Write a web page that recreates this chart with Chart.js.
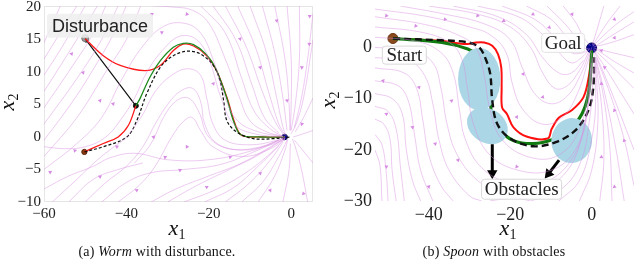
<!DOCTYPE html>
<html>
<head>
<meta charset="utf-8">
<script src="https://cdn.jsdelivr.net/npm/chart.js@4.4.1/dist/chart.umd.min.js"></script>
<style>
  body { margin: 0; background: #fff; width: 640px; height: 263px; overflow: hidden; position: relative; }
  canvas { position: absolute; top: 0; }
  .ttl { position: absolute; font-family: "Liberation Serif", serif; font-size: 22px; color: #111; line-height: 1; white-space: nowrap; }
  .ttl i { font-style: italic; }
  .ttl sub { font-size: 14px; vertical-align: -4px; }
  .rot { transform: translate(-50%, -50%) rotate(-90deg); }
  .hx { transform: translate(-50%, -50%); }
  .cap { position: absolute; top: 244px; font-family: "Liberation Serif", serif; font-size: 14px; letter-spacing: 0.2px; color: #111; white-space: nowrap; transform: translateX(-50%); }
</style>
</head>
<body>
<canvas id="worm" width="320" height="263" style="left:0"></canvas>
<canvas id="spoon" width="320" height="263" style="left:320px"></canvas>

<div class="ttl rot" style="left:8px; top:102px"><i>x</i><sub>2</sub></div>
<div class="ttl hx" style="left:177px; top:229px"><i>x</i><sub>1</sub></div>
<div class="ttl rot" style="left:329px; top:100px"><i>x</i><sub>2</sub></div>
<div class="ttl hx" style="left:508px; top:229px"><i>x</i><sub>1</sub></div>
<div class="cap" style="left:157px">(a) <i>Worm</i> with disturbance.</div>
<div class="cap" style="left:494px">(b) <i>Spoon</i> with obstacles</div>

<script>
// ---------- Worm (left) ----------
var wormXTicks = [-60, -40, -20, 0];
var wormYTicks = [-10, -5, 0, 5, 10, 15, 20];

var wormDashed = [[-50.2,-2.3],[-45.6,-1.5],[-39.9,0],[-37.5,2.5],[-35.1,6.6],[-31.8,10.7],[-28.6,12.5],[-25.3,13.2],[-22.1,12.8],[-18.9,11],[-17.3,8.7],[-16.4,5.6],[-15.6,2.5],[-13.2,0.75],[-9.2,-0.25],[-4.3,-0.25],[0,0]];
var wormRedStart = [[-50.2,-2.3],[-45.6,-1.0],[-42.0,0],[-39.5,1.8],[-37.7,4.8]];
var wormRed = [[-50,15.1],[-45.6,12.5],[-41.5,11.0],[-35.5,10.2],[-31.8,11.0],[-28.6,13.3],[-26.2,14.3],[-23.7,14.0],[-20.5,12.5],[-18.1,10.2],[-15.6,6.1],[-13.6,2.0],[-12.0,0.25],[-7.5,0],[-1.6,0]];
var wormGreen = [[-37.7,4.8],[-36.7,5.9],[-34.3,9.2],[-31.8,11.7],[-28.6,13.8],[-26.2,14.4],[-23.7,14.2],[-20.6,12.7],[-18.3,10.5],[-15.8,6.3],[-13.8,2.1],[-12.1,0.3],[-7.5,0],[-1.6,0]];
var wormJump = [[-50,15.1],[-37.7,4.8]];
var wormStart = [-50.2, -2.3];
var wormGoal = [-1.6, 0];
var wormDisturb = [-50, 15.2];

var wormStreams = [
  [[-60,14.5],[-56,20.2]],
  [[-60,12],[-52,20.2]],
  [[-60,9.5],[-55,14.5],[-50,20.2]],
  [[-60,7],[-53,14],[-47,20.2]],
  [[-60,4.5],[-53,11],[-48,16],[-45,20.2]],
  [[-60,2],[-52,9],[-46,15],[-42,20.2]],
  [[-60,-0.5],[-53,5.5],[-47,11.5],[-43,16],[-40,20.2]],
  [[-60,-3],[-52,3],[-45,10],[-40,15],[-36.5,20.2]],
  [[-60,-5],[-52,-1],[-46,3],[-41,9],[-36,14],[-31,17],[-26,17.5],[-22,16],[-19,12],[-16,6],[-13,2.5],[-8,0.8],[-2,0.1]],
  [[-60,-1.5],[-55,-1.8],[-50,-1.5],[-45,0],[-41,3],[-38,6],[-35,10],[-31,13.5],[-27,15.5],[-23,15],[-20,12],[-17,6],[-14,2],[-9,0.5],[-2,0]],
  [[-58,-10],[-52,-6.5],[-47,-3.5],[-43,-1.5],[-40,0],[-36,3.5],[-33,7],[-29,9.5],[-25,10.5],[-22,9.5],[-20.5,6],[-19,2],[-16,-0.5],[-10,-1.2],[-4,-0.6],[-1.5,0]],
  [[-50,-10],[-45,-7],[-40,-4.5],[-36,-1.5],[-33,2],[-30,5],[-27,7],[-24,7.5],[-22,5.5],[-21,2],[-18,-1],[-12,-2],[-5,-1.2],[-1.5,-0.2]],
  [[-38,-4],[-34,-1],[-31,3],[-28,5.5],[-25,6],[-22.5,4],[-20,0],[-15,-1.8],[-8,-1.6],[-2,-0.2]],
  [[-42,-10],[-37,-7.5],[-33,-4.5],[-29,0],[-26,2.5],[-24,3],[-22,1],[-19,-1.5],[-12,-3],[-5,-1.8],[-1.5,-0.3]],
  [[-34,20.2],[-29,20],[-24,19.5],[-20,17.5],[-16,12],[-12.5,6],[-10,2.5],[-6,0.8],[-2,0.1]],
  [[-22,20.2],[-16,16],[-12,9],[-9,4],[-5,1.2],[-2,0.1]],
  [[-19,20.2],[-13.5,15],[-9.5,8],[-6.5,3],[-3,0.6]],
  [[-16,20.2],[-11,14],[-7,7],[-4,2.5],[-1.8,0.3]],
  [[-13,20.2],[-8.5,13.5],[-5.5,7],[-3,2],[-1.5,0.3]],
  [[-10,20.2],[-6,13],[-3.5,6],[-2,1.5],[-1.2,0.2]],
  [[-7,20.2],[-4,13],[-2,6],[-1,1]],
  [[-4,20.2],[-1.5,12],[-0.5,5],[-0.3,1]],
  [[-1,20.2],[0,12],[0,5],[-0.2,1]],
  [[2,20.2],[2,12],[1,5],[0,1]],
  [[5.3,19],[4,12],[2.5,6],[0.8,1.5]],
  [[5.3,15],[3,6],[1.2,2],[0,0.5]],
  [[5.3,6],[3,3],[1,0.8]],
  [[5.3,1],[2.5,0.4],[0.5,0]],
  [[-34,-10],[-28,-8],[-20,-6],[-12,-4],[-5,-1.5],[-1.5,-0.2]],
  [[-30,-10],[-23,-7.5],[-15,-5],[-8,-2.8],[-2,-0.4]],
  [[-26,-10],[-18,-8],[-11,-5.5],[-5,-2.5],[-1.5,-0.3]],
  [[-21,-10],[-14,-7.8],[-8,-4.5],[-3,-1.4]],
  [[-16,-10],[-10,-7],[-5,-3.5],[-2,-0.8]],
  [[-12,-10],[-7,-7],[-3,-3],[-1,-0.5]],
  [[-8,-10],[-4,-6],[-1.5,-2],[-0.8,-0.3]],
  [[-2,-10],[-0.5,-5],[-0.2,-1]],
  [[4,-10],[2.5,-5],[1,-1.5],[0.3,-0.3]],
  [[5.3,-4],[2.5,-1.8],[0.8,-0.5]],
  [[-60,-8],[-54,-6],[-48,-4.5],[-44,-3.2],[-38,-2.5],[-30,-3.5],[-20,-3.5],[-10,-2.2],[-3,-0.5]],
  [[-46,-10],[-40,-7],[-34,-5.5],[-26,-5],[-17,-4.2],[-8,-2],[-2,-0.2]],
  [[-54,-10],[-48,-6.5],[-42,-5],[-36,-4]]
];
// arrow heads on the stream field: x, y, rotation (deg)
var wormArrows = [
  [-33.8,18.9,60],[-25.3,18.9,100],[-3.5,17.9,170],[4.5,18.6,180],[-53.3,12.8,40],[-31.4,16.1,60],
  [-12.4,15.1,160],[4.4,14.3,185],[-50.5,9.9,40],[2.6,10.7,185],[-46.4,5.6,40],[-43.2,5.1,40],
  [-18.9,8.2,160],[-7.5,10.7,165],[-1.0,5.6,170],[2.6,2.0,200],[-58.5,-5.4,60],[-46.4,-6.1,55],
  [-37.5,-8.2,55],[-30.6,-3.1,70],[-25.3,-1.5,90],[-14.8,-3.1,75],[-7.5,-5.6,45],[-5.1,-8.2,35],
  [3.0,-8.7,340],[-52.5,-2.1,75],[-42.3,-1.5,60],[-33.4,0,45],[-20.5,-7.7,60],[-27,-5.1,65]
];
var wormLabels = [
  { text: 'Disturbance', x: -46.4, y: 17.1, font: '18px "Liberation Sans", Arial, sans-serif', w: 106, h: 22, bg: 'rgba(238,238,238,0.85)', border: null }
];

// ---------- Spoon (right) ----------
var spoonXTicks = [-40, -20, 0];
var spoonYTicks = [-30, -20, -10, 0];

var spoonDashed = [[-48.8,1.75],[-36.8,1.4],[-30.4,1.0],[-27.6,0],[-26,-2.3],[-24.9,-5.2],[-24.4,-10.4],[-23.2,-14.9],[-20,-17.8],[-14.4,-19.3],[-8.8,-18.5],[-4,-16.2],[-0.8,-12.3],[0.4,-7.8],[0.6,-1.9]];
var spoonGreen = [[-48.8,1.75],[-36.8,1.0],[-30.4,-0.3],[-28,-1.6],[-26.4,-3.9],[-25.2,-9.1],[-24.4,-13.3],[-22.4,-16.2],[-19.2,-18.2],[-14.4,-18.8],[-9.6,-18],[-5.6,-16.2],[-2.4,-13],[-0.8,-9.1],[-0.2,-3.9],[0,-0.6]];
var spoonRed = [[-48.8,1.75],[-36.8,1.3],[-32.8,0.8],[-30.4,0.66],[-28.4,0.97],[-26.4,0.97],[-24.4,0.33],[-23,-1.3],[-22.2,-3.9],[-22.1,-7.8],[-22,-11.7],[-20.8,-13],[-19.2,-15.6],[-16,-17.4],[-10.8,-17.8],[-9.8,-15.9],[-8,-13.7],[-4.8,-12.2],[-2,-9.7],[-0.6,-5.2],[0,-0.6]];
var spoonStart = [-48.8, 1.75];
var spoonGoal = [0, -0.1];
// obstacles: centre x, centre y, radius x, radius y (data units), rotation (rad)
var spoonObstacles = [
  [-27.6, -6.2, 5.2, 6.1, 0],
  [-25.6, -15.3, 5.3, 3.3, 0.55],
  [-4.9, -18.2, 5.0, 4.4, 0.1]
];
var spoonPointers = [
  [[-24.4,-18.9],[-24.4,-24.6]],
  [[-8.0,-22.0],[-10.6,-24.7]]
];
var spoonPointerRot = [180, 219];

var spoonStreams = [
  [[-53.2,-20],[-52,-23],[-51.5,-30]],
  [[-53.2,-17],[-51.5,-19],[-50.5,-24],[-50,-30]],
  [[-53.2,-14],[-51,-15],[-49.5,-18],[-49,-24],[-48,-30]],
  [[-53.2,-11.5],[-50,-12.5],[-48,-16],[-47,-23],[-46,-30]],
  [[-53.2,-9],[-49,-10],[-46.5,-13],[-45.5,-20],[-44,-26],[-42,-30]],
  [[-53.2,-6.5],[-47.5,-7.5],[-45,-10.5],[-43.5,-17],[-42,-24],[-39,-30]],
  [[-53.2,-4],[-46,-5],[-43,-8],[-41.5,-14],[-40,-21],[-37,-27],[-34,-30]],
  [[-53.2,-2],[-45,-2.5],[-41,-5.5],[-39,-11],[-37.5,-18],[-35,-24],[-30,-29],[-27,-30]],
  [[-53.2,0],[-44,-0.5],[-39,-3],[-37,-8],[-35.5,-15],[-33,-21],[-28,-26],[-22,-28.5],[-15,-30]],
  [[-53.2,2],[-43,1.2],[-37,-1],[-34,-5],[-32.5,-12],[-31,-18],[-27,-23.5],[-20,-26.5],[-12,-26.5],[-5,-22],[-1.5,-14],[-0.2,-4]],
  [[-53.2,4],[-42,3],[-35,1],[-32,-2],[-30.5,-8],[-29,-15],[-25,-21],[-18,-24],[-10,-24],[-4,-20],[-1,-12],[0,-3]],
  [[-53.2,6],[-41,4.5],[-33,2.5],[-28.5,0],[-26.5,-5],[-25,-12],[-22,-18],[-15,-21.5],[-8,-21],[-3,-16],[-0.8,-8],[0,-1]],
  [[-53.2,7.5],[-40,6],[-30,4],[-25,2.5],[-21,-1],[-19.5,-7],[-17,-12],[-12,-15],[-7,-13.5],[-3.5,-9],[-1,-3],[0,0]],
  [[-47,8.1],[-36,6.5],[-26,4.5],[-20,1.5],[-17,-4],[-14,-9],[-10,-11],[-6,-9.5],[-2.5,-5],[-0.5,-0.8]],
  [[-40,8.1],[-28,6.5],[-20,4],[-15,0],[-12,-5],[-9,-8],[-6,-7.5],[-3,-4.5],[-0.8,-1]],
  [[-34,8.1],[-23,6],[-16,2.5],[-12,-2],[-8,-5],[-5,-5],[-2,-2.5]],
  [[-28,8.1],[-18,6],[-12,2.5],[-8,-1],[-5,-3],[-2.5,-2],[-0.5,-0.3]],
  [[-22,8.1],[-14,5.5],[-9,2],[-5,-1],[-2,-1],[-0.5,-0.2]],
  [[-16,8.1],[-10,5.5],[-6,2],[-3,0],[-0.8,-0.2]],
  [[-11,8.1],[-7,5],[-4,2.2],[-1.5,0.3]],
  [[-7,8.1],[-4,5],[-2,2],[-0.3,0.3]],
  [[3,8.1],[1.5,4],[0.2,0.5]],
  [[7,8.1],[4,5],[1.5,2],[0.3,0.3]],
  [[10.4,7],[6,4.5],[2.5,2],[0.3,0.2]],
  [[10.4,5],[5.5,2.6],[1,0.3]],
  [[10.4,2.5],[5,1],[0.5,0.1]],
  [[10.4,-2],[5,-1],[0.5,-0.1]],
  [[10.4,-5],[5.5,-2.7],[1,-0.3]],
  [[10.4,-8],[6,-4.5],[2.5,-1.8],[0.4,-0.3]],
  [[10.4,-13],[6.5,-8],[3,-3.5],[0.6,-0.6]],
  [[10.4,-20],[7,-13],[3.5,-6],[0.8,-1]],
  [[10.4,-27],[8,-18],[4.5,-9],[1.2,-2]],
  [[8,-30],[6,-20],[3.5,-10],[1,-2]],
  [[5,-30],[4.5,-20],[3,-10],[1,-2.5]],
  [[2,-30],[3,-22],[2.5,-12],[1,-3]],
  [[-3,-30],[0,-24],[1.5,-15],[1.2,-6],[0.5,-1]],
  [[-8,-30],[-3,-26],[0,-18],[1,-10],[0.5,-2]],
  [[-15,-30],[-8,-28],[-3,-23],[-0.5,-14],[0.5,-4]],
  [[-25,-30],[-15,-28.5],[-7,-25],[-2.5,-18],[-0.5,-9],[0.2,-2]]
];
var spoonArrows = [
  [-50.4,6.2,100],[-43.2,4.2,100],[-36,5.5,100],[-28,6.2,100],[-21.6,5.2,120],[-14.4,6.5,125],
  [-10.4,3.9,135],[-4.8,6.5,155],[5.6,5.5,250],[5.6,1.9,265],[2.4,-0.6,280],[3.2,-3.9,300],
  [-51.2,-6.5,160],[-42.4,-7.8,165],[-34.4,-10.4,170],[-16.8,-5.2,150],[-12,-9.7,140],[-18.4,-13.6,150],
  [-50.4,-13,175],[-44,-15.6,175],[-38.4,-18.8,170],[-50.4,-23.3,180],[-32.8,-22,160],[-40,-27.2,165],
  [-18.4,-23.3,100],[2.4,-7.1,355],[5.6,-12.3,340],[8,-18.2,340],[2.4,-21.4,5],[5.6,-27.2,350]
];
var spoonLabels = [
  { text: 'Start', x: -46.0, y: -1.5, font: '19px "Liberation Serif", serif', w: 44, h: 16, bg: 'rgba(255,255,255,0.85)', border: '#d8d8d8' },
  { text: 'Goal', x: -7.0, y: 0.9, font: '19px "Liberation Serif", serif', w: 43, h: 17, bg: 'rgba(255,255,255,0.85)', border: '#e2e2e2' },
  { text: 'Obstacles', x: -17.2, y: -27.7, font: '19px "Liberation Serif", serif', w: 80, h: 18, bg: 'rgba(255,255,255,0.9)', border: '#d8d8d8' }
];

var STREAM = 'rgba(214,140,224,0.45)';
var ARROW = '#d68ce2';

function pts(arr) {
  return arr.map(function (p) { return { x: p[0], y: p[1] }; });
}

function minusFmt(v) {
  return v < 0 ? '\u2212' + Math.abs(v) : '' + v;
}

function streamSets(streams) {
  return streams.map(function (s) {
    return { data: pts(s), showLine: true, borderColor: STREAM, borderWidth: 1, pointRadius: 0, tension: 0.4 };
  });
}

function arrowSet(arrows) {
  return {
    data: arrows.map(function (a) { return { x: a[0], y: a[1] }; }),
    pointStyle: 'triangle',
    pointRadius: 2.3,
    pointRotation: arrows.map(function (a) { return a[2]; }),
    backgroundColor: ARROW,
    borderWidth: 0,
    showLine: false
  };
}

function lineSet(data, color, width, dash) {
  return { data: pts(data), showLine: true, borderColor: color, borderWidth: width, borderDash: dash || [], pointRadius: 0, tension: 0.35 };
}

function dotSet(p, color, edge, r) {
  return { data: [{ x: p[0], y: p[1] }], pointRadius: r, backgroundColor: color, borderColor: edge, borderWidth: 1, showLine: false };
}

var obstaclePlugin = {
  id: 'obstacles',
  beforeDatasetDraw: function (chart, args, opts) {
    if (!opts.list || args.index !== opts.at) return;
    var c = chart.ctx, xs = chart.scales.x, ys = chart.scales.y;
    c.save();
    c.fillStyle = '#abd6e6';
    opts.list.forEach(function (o) {
      var cx = xs.getPixelForValue(o[0]), cy = ys.getPixelForValue(o[1]);
      var rx = Math.abs(xs.getPixelForValue(o[0] + o[2]) - cx);
      var ry = Math.abs(ys.getPixelForValue(o[1] + o[3]) - cy);
      c.beginPath();
      c.ellipse(cx, cy, rx, ry, o[4], 0, Math.PI * 2);
      c.fill();
    });
    c.restore();
  }
};

var framePlugin = {
  id: 'frame',
  beforeDatasetsDraw: function (chart, args, opts) {
    if (!opts.color) return;
    var a = chart.chartArea, c = chart.ctx;
    c.save();
    c.strokeStyle = opts.color;
    c.lineWidth = 1;
    c.strokeRect(a.left + 0.5, a.top + 0.5, a.right - a.left - 1, a.bottom - a.top - 1);
    c.restore();
  }
};

var labelPlugin = {
  id: 'boxLabels',
  afterDatasetsDraw: function (chart, args, opts) {
    if (!opts.list) return;
    var c = chart.ctx, xs = chart.scales.x, ys = chart.scales.y;
    c.save();
    opts.list.forEach(function (l) {
      var px = xs.getPixelForValue(l.x), py = ys.getPixelForValue(l.y);
      c.fillStyle = l.bg;
      c.beginPath();
      c.roundRect(px - l.w / 2, py - l.h / 2 - 1, l.w, l.h + 2, 3);
      c.fill();
      if (l.border) { c.strokeStyle = l.border; c.lineWidth = 1; c.stroke(); }
      c.fillStyle = '#222';
      c.font = l.font;
      c.textAlign = 'center';
      c.textBaseline = 'middle';
      c.fillText(l.text, px, py + 1);
    });
    c.restore();
  }
};

function axis(min, max, ticks, size, fontSize, isY) {
  return {
    type: 'linear',
    min: min,
    max: max,
    afterBuildTicks: function (s) { s.ticks = ticks.map(function (v) { return { value: v }; }); },
    afterFit: function (s) {
      if (isY) s.width = size; else s.height = size;
      s.paddingLeft = 0; s.paddingRight = 0; s.paddingTop = 0; s.paddingBottom = 0;
    },
    grid: { display: false, drawTicks: false },
    border: { display: false },
    ticks: {
      autoSkip: false,
      maxRotation: 0,
      padding: 3,
      color: '#222',
      font: { family: '"Liberation Serif", serif', size: fontSize },
      callback: minusFmt
    }
  };
}

function makeChart(canvas, datasets, xr, yr, xTicks, yTicks, yW, xH, pad, fontSize, plug) {
  return new Chart(canvas, {
    type: 'scatter',
    data: { datasets: datasets },
    options: {
      responsive: false,
      animation: false,
      events: [],
      layout: { padding: pad },
      scales: {
        x: axis(xr[0], xr[1], xTicks, xH, fontSize, false),
        y: axis(yr[0], yr[1], yTicks, yW, fontSize, true)
      },
      plugins: Object.assign({ legend: { display: false }, tooltip: { enabled: false } }, plug)
    },
    plugins: [framePlugin, obstaclePlugin, labelPlugin]
  });
}

// left chart
var wormSets = streamSets(wormStreams).concat([
  arrowSet(wormArrows),
  lineSet(wormDashed, '#111', 1.2, [3, 2]),
  lineSet(wormGreen, '#1f8a1f', 1.3),
  lineSet(wormRedStart, '#ff1a1a', 1.3),
  lineSet(wormRed, '#ff1a1a', 1.3),
  lineSet(wormJump, '#111', 1.2),
  dotSet(wormDisturb, '#9a9a9a', '#777', 3.5),
  dotSet([-49.8, 14.9], '#111', '#111', 2),
  dotSet(wormRedStart[wormRedStart.length - 1], '#111', '#111', 2.5),
  dotSet(wormStart, '#8a3b12', '#5a2208', 2.6),
  dotSet(wormGoal, '#0c0c8c', '#06064a', 2.8)
]);
makeChart(document.getElementById('worm'), wormSets, [-60, 5.3], [-10, 20.15],
  wormXTicks, wormYTicks, 44, 61, { left: 0, top: 6, right: 7, bottom: 0 }, 15,
  { frame: { color: '#e6e6e6' }, boxLabels: { list: wormLabels } });

// right chart
var spoonSets = streamSets(spoonStreams).concat([
  arrowSet(spoonArrows),
  lineSet(spoonDashed, '#111', 2.4, [7, 4]),
  lineSet(spoonGreen, '#117a11', 3.2),
  lineSet(spoonRed, '#ff1010', 2.0)
]);
spoonPointers.forEach(function (p, i) {
  spoonSets.push({
    data: pts(p), showLine: true, borderColor: '#000', borderWidth: 3,
    pointStyle: 'triangle', pointRadius: [0, 6], pointRotation: [0, spoonPointerRot[i]],
    backgroundColor: '#000', pointBorderWidth: 0
  });
});
spoonSets.push(dotSet(spoonStart, '#8b4a1c', '#6a3410', 5));
spoonSets.push(dotSet(spoonGoal, '#00008b', '#00005a', 5));

makeChart(document.getElementById('spoon'), spoonSets, [-53.2, 10.4], [-30, 8.1],
  spoonXTicks, spoonYTicks, 55, 62, { left: 0, top: 5, right: 0, bottom: 0 }, 18,
  { boxLabels: { list: spoonLabels }, obstacles: { list: spoonObstacles, at: spoonStreams.length + 1 } });
</script>
</body>
</html>
